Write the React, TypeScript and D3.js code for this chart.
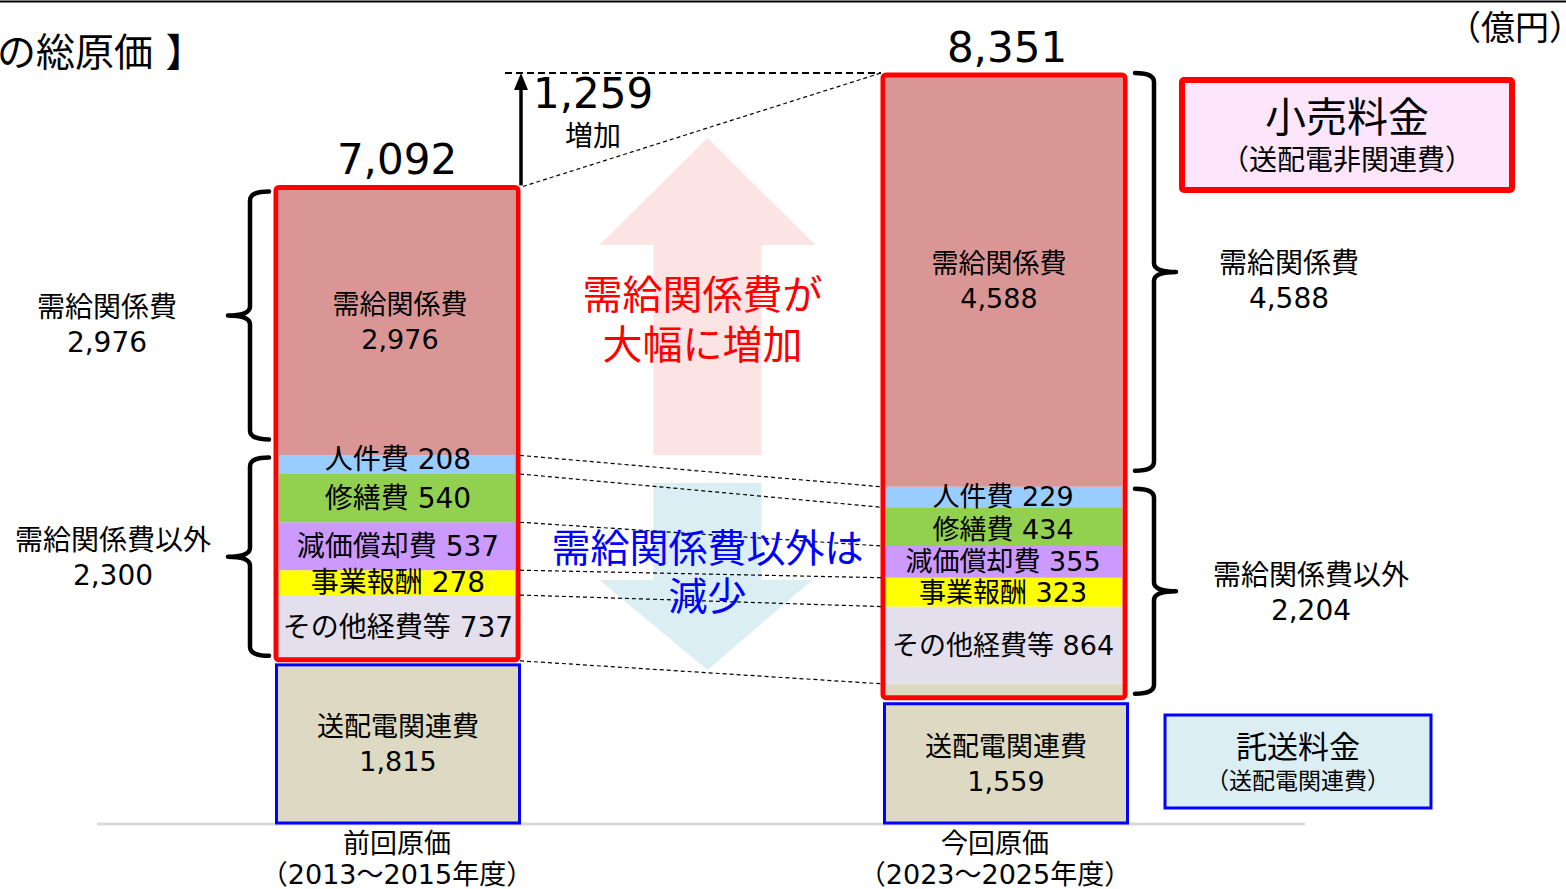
import React from "react";
import * as d3 from "d3";

// ---------------- data ----------------
const periods = ["前回原価", "今回原価"];
const periodYears = ["（2013～2015年度）", "（2023～2025年度）"];
const segmentNames = ["送配電関連費", "その他経費等", "事業報酬", "減価償却費", "修繕費", "人件費", "需給関係費"];
const segmentColors = ["#ddd9c3", "#e4dfec", "#ffff00", "#cc99ff", "#92d050", "#99ccff", "#d99694"];
const previousValues = [1815, 737, 278, 537, 540, 208, 2976];
const currentValues = [1559, 864, 323, 355, 434, 229, 4588];
const totalValues = [7092, 8351];
const supplyDemandTotals = [2976, 4588];
const otherTotals = [2300, 2204];
const increaseValue = 1259;
const groupNames = ["需給関係費", "需給関係費以外"];

// ---------------- layout ----------------
const W = 1566;
const H = 889;
const BASE_Y = 823;
const TOP_Y = 77;
const FONT = '"DejaVu Sans", "Noto Sans CJK JP", sans-serif';
const fmt = d3.format(",");

// visual tweaks for the outline boxes (pixel offsets from the transmission boundary)
const redBottomOffset = [-1, 14];
const blueTopOffset = [4, 20];
const blueShiftX = [1, 2];
const labelFont = [28, 27];

function bracePath(xv: number, y1: number, y2: number, dir: number, hook = 19, tip = 22, r = 9) {
  const ym = (y1 + y2) / 2;
  return [
    `M${xv - dir * hook},${y1}`,
    `Q${xv},${y1} ${xv},${y1 + r}`,
    `L${xv},${ym - r}`,
    `Q${xv},${ym} ${xv + dir * tip},${ym}`,
    `Q${xv},${ym} ${xv},${ym + r}`,
    `L${xv},${y2 - r}`,
    `Q${xv},${y2} ${xv - dir * hook},${y2}`,
  ].join(" ");
}

export default function App() {
  const y = d3.scaleLinear().domain([0, d3.max(totalValues) as number]).range([BASE_Y, TOP_Y]);
  const x = d3.scalePoint<string>().domain(periods).range([397, 1004]);
  const series = [previousValues, currentValues];

  const columns = series.map((vals, i) => {
    const cum = Array.from(d3.cumsum(vals));
    const segs = vals.map((v, k) => ({
      name: segmentNames[k],
      color: segmentColors[k],
      value: v,
      y0: cum[k] - v,
      y1: cum[k],
    }));
    const cx = x(periods[i]) as number;
    const base = vals[0];
    const redTop = y(totalValues[i]) - 2;
    const redBottom = y(base) + redBottomOffset[i];
    const blueTop = y(base) + blueTopOffset[i];
    return { cx, segs, base, redTop, redBottom, blueTop, cum };
  });

  const [L, R] = columns;
  const barHalf = 118;
  const midX = (L.cx + R.cx) / 2 + 7;

  const connectors = L.cum.slice(0, L.cum.length - 1).map((c, k) => ({
    y1: y(c),
    y2: y(R.cum[k]),
  }));

  const segLabel = (s: any) => `${s.name} ${fmt(s.value)}`;

  return (
    <svg
      width={W}
      height={H}
      viewBox={`0 0 ${W} ${H}`}
      style={{ position: "absolute", left: 0, top: 0, background: "#fff", fontFamily: FONT }}
    >
      {/* top frame line */}
      <line x1={0} x2={W} y1={1.5} y2={1.5} stroke="#000" strokeWidth={2} />

      {/* title & unit */}
      <text x={-3} y={52} fontSize={39} dominantBaseline="central" fill="#000">の総原価 】</text>
      <text x={1583} y={28} fontSize={34} textAnchor="end" dominantBaseline="central" fill="#000">（億円）</text>

      {/* baseline */}
      <line x1={97} x2={1305} y1={BASE_Y + 1} y2={BASE_Y + 1} stroke="#d9d9d9" strokeWidth={3} />

      {/* big background arrows */}
      <polygon
        points={[
          [midX, 138], [midX + 108, 245], [midX + 54, 245], [midX + 54, 455],
          [midX - 54, 455], [midX - 54, 245], [midX - 108, 245],
        ].map((p) => p.join(",")).join(" ")}
        fill="#fde4e4"
      />
      <polygon
        points={[
          [midX - 54, 483], [midX + 54, 483], [midX + 54, 580], [midX + 105, 580],
          [midX, 670], [midX - 108, 580], [midX - 54, 580],
        ].map((p) => p.join(",")).join(" ")}
        fill="#daeef3"
      />

      {/* stacked segments */}
      {columns.map((col, i) => (
        <g key={periods[i]}>
          {col.segs.map((s, k) => {
            if (k === 0) {
              const top = y(s.y1);
              const bottom = col.redBottom - 2;
              return bottom > top ? (
                <rect key={s.name} x={col.cx - barHalf} width={barHalf * 2} y={top} height={bottom - top} fill={s.color} />
              ) : null;
            }
            return (
              <rect
                key={s.name}
                x={col.cx - barHalf}
                width={barHalf * 2}
                y={y(s.y1)}
                height={y(s.y0) - y(s.y1)}
                fill={s.color}
              />
            );
          })}
          {/* transmission box */}
          <rect
            x={col.cx - 121.5 + blueShiftX[i]}
            y={col.blueTop}
            width={243}
            height={BASE_Y - col.blueTop}
            fill={segmentColors[0]}
            stroke="#0000ff"
            strokeWidth={3}
          />
          {/* red outline */}
          <rect
            x={col.cx - 121}
            y={col.redTop}
            width={242}
            height={col.redBottom - col.redTop}
            fill="none"
            stroke="#ff0000"
            strokeWidth={5}
            rx={3}
          />
        </g>
      ))}

      {/* dashed connectors */}
      <g stroke="#000" strokeWidth={1.2} strokeDasharray="4,3" fill="none">
        {connectors.map((c, k) => (
          <line key={k} x1={L.cx + 123} x2={R.cx - 123} y1={c.y1} y2={c.y2} />
        ))}
        <line x1={L.cx + 126} x2={R.cx - 123} y1={y(totalValues[0]) - 3} y2={y(totalValues[1]) - 4} />
      </g>
      <line
        x1={L.cx + 108}
        x2={R.cx - 123}
        y1={y(totalValues[1]) - 4}
        y2={y(totalValues[1]) - 4}
        stroke="#000"
        strokeWidth={2}
        strokeDasharray="7,4"
      />

      {/* increase arrow */}
      <line x1={L.cx + 124} x2={L.cx + 124} y1={y(totalValues[0]) - 4} y2={y(totalValues[1]) + 10} stroke="#000" strokeWidth={3.5} />
      <polygon
        points={`${L.cx + 124},${y(totalValues[1]) - 4} ${L.cx + 131},${y(totalValues[1]) + 13} ${L.cx + 117},${y(totalValues[1]) + 13}`}
        fill="#000"
      />
      <text x={L.cx + 136} y={93} fontSize={42} dominantBaseline="central">{fmt(increaseValue)}</text>
      <text x={593} y={136} fontSize={28} textAnchor="middle" dominantBaseline="central">増加</text>

      {/* totals */}
      {columns.map((col, i) => (
        <text key={i} x={col.cx + (i ? 3 : 0)} y={y(totalValues[i]) - 30} fontSize={42} textAnchor="middle" dominantBaseline="central">
          {fmt(totalValues[i])}
        </text>
      ))}

      {/* segment labels */}
      {columns.map((col, i) => (
        <g key={"lab" + i} fontSize={labelFont[i]} textAnchor="middle">
          {col.segs.map((s, k) => {
            const cy = (y(s.y0) + y(s.y1)) / 2;
            if (k === 0) {
              const c = (col.blueTop + BASE_Y) / 2;
              return (
                <g key={s.name}>
                  <text x={col.cx + blueShiftX[i]} y={c - 17} dominantBaseline="central" fontSize={27}>{s.name}</text>
                  <text x={col.cx + blueShiftX[i]} y={c + 18} dominantBaseline="central" fontSize={27}>{fmt(s.value)}</text>
                </g>
              );
            }
            if (k === segmentNames.length - 1) {
              return (
                <g key={s.name}>
                  <text x={col.cx - (i ? 5 : -3)} y={cy - 18} dominantBaseline="central" fontSize={27}>{s.name}</text>
                  <text x={col.cx - (i ? 5 : -3)} y={cy + 17} dominantBaseline="central" fontSize={27}>{fmt(s.value)}</text>
                </g>
              );
            }
            return (
              <text key={s.name} x={col.cx + (i ? -1 : 1)} y={cy - (k === 5 && i === 0 ? 5 : 0) + (k === 4 && i === 1 ? 3 : 0)} dominantBaseline="central">
                {segLabel(s)}
              </text>
            );
          })}
        </g>
      ))}

      {/* braces */}
      {columns.map((col, i) => {
        const dir = i === 0 ? -1 : 1;
        const xv = i === 0 ? col.cx - 147 : col.cx + 150;
        const sdTop = y(totalValues[i]);
        const sdBottom = y(col.cum[col.cum.length - 2]);
        const b1 = [sdTop + (i === 0 ? 2 : -4), sdBottom - 16];
        const b2 = [sdBottom + 2, col.redBottom - 4];
        const labelX = i === 0 ? xv - 22 - 115 : xv + 22 + 125;
        const groups = [
          { range: b1, name: groupNames[0], value: supplyDemandTotals[i], dx: i === 0 ? -6 : -12 },
          { range: b2, name: groupNames[1], value: otherTotals[i], dx: i === 0 ? 0 : 10 },
        ];
        return (
          <g key={"br" + i}>
            {groups.map((g, k) => {
              const ym = (g.range[0] + g.range[1]) / 2;
              return (
                <g key={k}>
                  <path d={bracePath(xv, g.range[0], g.range[1], dir)} fill="none" stroke="#000" strokeWidth={4.5} strokeLinejoin="round" strokeLinecap="round" />
                  <text x={labelX + g.dx} y={ym - 12 + (k === 0 ? 4 : -4)} fontSize={28} textAnchor="middle" dominantBaseline="central">{g.name}</text>
                  <text x={labelX + g.dx} y={ym + 23 + (k === 0 ? 4 : -4)} fontSize={28} textAnchor="middle" dominantBaseline="central">{fmt(g.value)}</text>
                </g>
              );
            })}
          </g>
        );
      })}

      {/* message texts */}
      <g fontSize={40} textAnchor="middle">
        <text x={midX - 5} y={295} fill="#ff0000" dominantBaseline="central">需給関係費が</text>
        <text x={midX - 5} y={345} fill="#ff0000" dominantBaseline="central">大幅に増加</text>
        <text x={midX} y={548} fill="#0000ff" dominantBaseline="central" fontSize={39}>需給関係費以外は</text>
        <text x={midX} y={596} fill="#0000ff" dominantBaseline="central" fontSize={39}>減少</text>
      </g>

      {/* legend boxes */}
      <rect x={1182} y={80} width={330} height={110} fill="#fde6fb" stroke="#ff0000" strokeWidth={6} rx={2} />
      <text x={1347} y={118} fontSize={41} textAnchor="middle" dominantBaseline="central">小売料金</text>
      <text x={1347} y={160} fontSize={28} textAnchor="middle" dominantBaseline="central">（送配電非関連費）</text>

      <rect x={1165} y={715} width={266} height={93} fill="#daeef3" stroke="#0000ff" strokeWidth={3} />
      <text x={1298} y={747} fontSize={31} textAnchor="middle" dominantBaseline="central">託送料金</text>
      <text x={1298} y={781} fontSize={23} textAnchor="middle" dominantBaseline="central">（送配電関連費）</text>

      {/* x labels */}
      {columns.map((col, i) => (
        <g key={"x" + i} fontSize={27} textAnchor="middle">
          <text x={col.cx - (i ? 9 : 0)} y={843} dominantBaseline="central">{periods[i]}</text>
          <text x={col.cx - (i ? 9 : 0)} y={874} dominantBaseline="central">{periodYears[i]}</text>
        </g>
      ))}
    </svg>
  );
}
